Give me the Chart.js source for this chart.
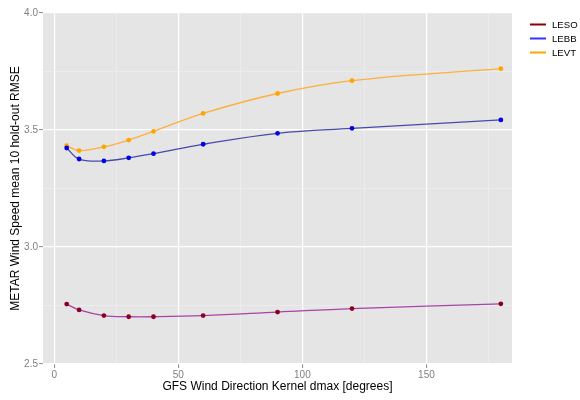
<!DOCTYPE html>
<html>
<head>
<meta charset="utf-8">
<script src="https://cdn.jsdelivr.net/npm/chart.js@4/dist/chart.umd.min.js"></script>
<style>
  html, body { margin: 0; padding: 0; background: #ffffff; }
  #wrap { width: 580px; height: 400px; }
</style>
</head>
<body>
<div id="wrap"><canvas id="chart" width="580" height="400"></canvas></div>
<script>
// Kernel dmax settings (degrees) and mean hold-out RMSE per station
const dmax = [5, 10, 20, 30, 40, 60, 90, 120, 180];
const leso = [2.756, 2.731, 2.707, 2.702, 2.702, 2.707, 2.722, 2.737, 2.757];
const lebb = [3.423, 3.376, 3.368, 3.381, 3.399, 3.439, 3.486, 3.507, 3.543];
const levt = [3.433, 3.412, 3.428, 3.457, 3.494, 3.571, 3.656, 3.711, 3.762];
const stations = ['LESO', 'LEBB', 'LEVT'];

// Axis ticks: labelled majors plus unlabelled minors
const xMajor = [0, 50, 100, 150];
const xMinor = [25, 75, 125, 175];
const yMajor = [2.5, 3.0, 3.5, 4.0];
const yMinor = [2.75, 3.25, 3.75];

const FONT = "'Liberation Sans', Arial, sans-serif";
const lineColors = ['rgba(160,50,160,0.9)', 'rgba(55,55,165,0.9)', 'rgba(255,170,40,0.9)'];
const pointColors = ['#8b0020', '#0000e8', '#ffa500'];
const keyColors = ['#8b0000', '#3333ff', '#ffa500'];

const series = [leso, lebb, levt];
const datasets = series.map((vals, i) => ({
  label: stations[i],
  data: dmax.map((x, j) => ({ x: x, y: vals[j] })),
  borderColor: lineColors[i],
  borderWidth: 1.3,
  tension: 0.4,
  pointRadius: 2.4,
  pointBackgroundColor: pointColors[i],
  pointBorderColor: pointColors[i],
  pointBorderWidth: 0,
  fill: false
}));

const isMajor = (list, v) => list.some(m => Math.abs(m - v) < 1e-9);

// grey plotting panel behind the grid
const panel = {
  id: 'panel',
  beforeDraw(chart) {
    const { ctx, chartArea: a } = chart;
    ctx.save();
    ctx.fillStyle = '#e5e5e5';
    ctx.fillRect(a.left, a.top, a.right - a.left, a.bottom - a.top);
    ctx.restore();
  }
};

// line-key legend to the right of the panel
const key = {
  id: 'key',
  afterDraw(chart) {
    const { ctx } = chart;
    ctx.save();
    ctx.font = "9.6px " + FONT;
    ctx.textBaseline = 'middle';
    ctx.textAlign = 'left';
    const ys = [24.5, 38.5, 52.5];
    chart.data.datasets.forEach((ds, i) => {
      ctx.strokeStyle = keyColors[i];
      ctx.lineWidth = 2;
      ctx.beginPath();
      ctx.moveTo(530, ys[i]);
      ctx.lineTo(546, ys[i]);
      ctx.stroke();
      ctx.fillStyle = '#000000';
      ctx.fillText(ds.label, 552, ys[i] + 0.5);
    });
    ctx.restore();
  }
};

new Chart(document.getElementById('chart'), {
  type: 'line',
  data: { datasets: datasets },
  plugins: [panel, key],
  options: {
    responsive: false,
    animation: false,
    devicePixelRatio: 1,
    layout: { padding: { left: 0, right: 68, top: 13, bottom: 0 } },
    plugins: { legend: { display: false }, tooltip: { enabled: false } },
    scales: {
      x: {
        type: 'linear',
        min: -4.55,
        max: 184.5,
        afterBuildTicks(scale) {
          scale.ticks = xMajor.concat(xMinor).sort((a, b) => a - b).map(v => ({ value: v }));
        },
        afterFit(scale) { scale.height = 36; },
        border: { display: false },
        grid: {
          color: c => isMajor(xMajor, c.tick.value) ? '#ffffff' : '#f0f0f0',
          lineWidth: c => isMajor(xMajor, c.tick.value) ? 1.2 : 0.6,
          tickLength: 4,
          tickColor: c => isMajor(xMajor, c.tick.value) ? '#8a8a8a' : 'rgba(0,0,0,0)',
          tickWidth: 1
        },
        ticks: {
          autoSkip: false,
          maxRotation: 0,
          padding: 1,
          color: '#7f7f7f',
          font: { family: FONT, size: 10 },
          callback: v => isMajor(xMajor, v) ? String(v) : ''
        },
        title: {
          display: true,
          text: 'GFS Wind Direction Kernel dmax [degrees]',
          color: '#000000',
          font: { family: FONT, size: 12 },
          padding: { top: 0, bottom: 6 }
        }
      },
      y: {
        type: 'linear',
        min: 2.5,
        max: 4.0,
        afterBuildTicks(scale) {
          scale.ticks = yMajor.concat(yMinor).sort((a, b) => a - b).map(v => ({ value: v }));
        },
        afterFit(scale) { scale.width = 43; },
        border: { display: false },
        grid: {
          color: c => isMajor(yMajor, c.tick.value) ? '#ffffff' : '#f0f0f0',
          lineWidth: c => isMajor(yMajor, c.tick.value) ? 1.2 : 0.6,
          tickLength: 4,
          tickColor: c => isMajor(yMajor, c.tick.value) ? '#8a8a8a' : 'rgba(0,0,0,0)',
          tickWidth: 1
        },
        ticks: {
          autoSkip: false,
          padding: 1,
          color: '#7f7f7f',
          font: { family: FONT, size: 10 },
          callback: v => isMajor(yMajor, v) ? v.toFixed(1) : ''
        },
        title: {
          display: true,
          text: 'METAR Wind Speed mean 10 hold-out RMSE',
          color: '#000000',
          font: { family: FONT, size: 12 },
          padding: { top: 8, bottom: 0 }
        }
      }
    }
  }
});
</script>
</body>
</html>
